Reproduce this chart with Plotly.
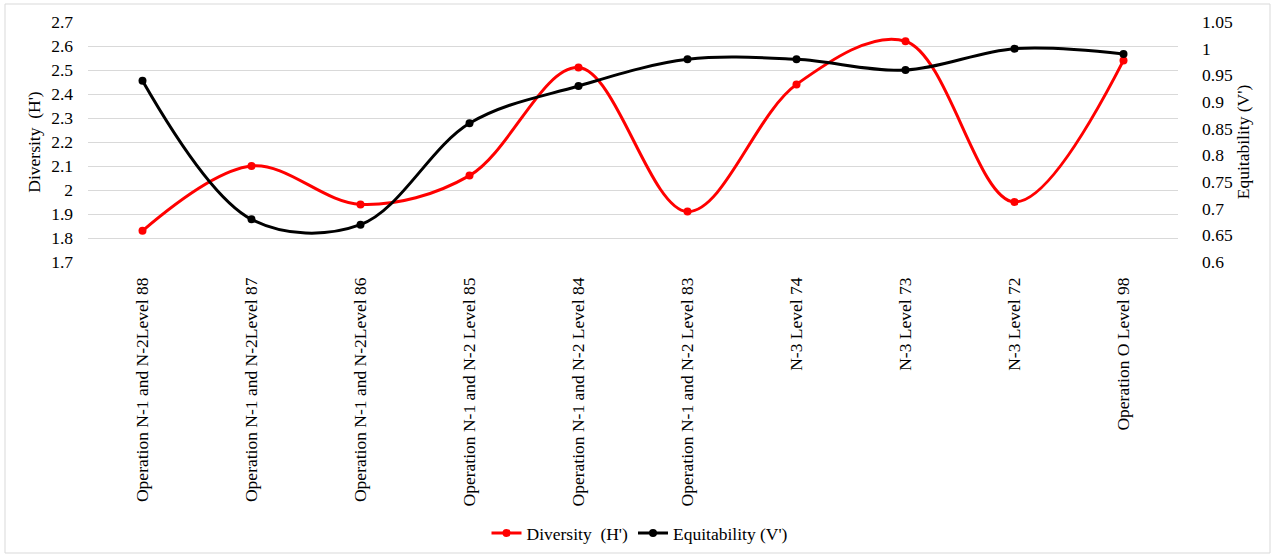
import plotly.graph_objects as go

categories = [
    "Operation N-1 and N-2Level 88",
    "Operation N-1 and N-2Level 87",
    "Operation N-1 and N-2Level 86",
    "Operation N-1 and N-2 Level 85",
    "Operation N-1 and N-2 Level 84",
    "Operation N-1 and N-2 Level 83",
    "N-3 Level 74",
    "N-3 Level 73",
    "N-3 Level 72",
    "Operation O Level 98",
]
diversity = [1.83, 2.10, 1.94, 2.06, 2.51, 1.91, 2.44, 2.62, 1.95, 2.54]
equitability = [0.94, 0.68, 0.67, 0.86, 0.93, 0.98, 0.98, 0.96, 1.00, 0.99]

left_ticks = [1.7, 1.8, 1.9, 2.0, 2.1, 2.2, 2.3, 2.4, 2.5, 2.6, 2.7]
left_labels = ["1.7", "1.8", "1.9", "2", "2.1", "2.2", "2.3", "2.4", "2.5", "2.6", "2.7"]
right_ticks = [0.6, 0.65, 0.7, 0.75, 0.8, 0.85, 0.9, 0.95, 1.0, 1.05]
right_labels = ["0.6", "0.65", "0.7", "0.75", "0.8", "0.85", "0.9", "0.95", "1", "1.05"]

FONT = "Liberation Serif"
FS = 17.5

fig = go.Figure()
fig.add_trace(go.Scatter(
    x=categories, y=diversity, name="Diversity  (H')",
    mode="lines+markers", line=dict(color="#ff0000", width=3, shape="spline", smoothing=1.0),
    marker=dict(color="#ff0000", size=8), yaxis="y",
))
fig.add_trace(go.Scatter(
    x=categories, y=equitability, name="Equitability (V')",
    mode="lines+markers", line=dict(color="#000000", width=3, shape="spline", smoothing=1.0),
    marker=dict(color="#000000", size=8), yaxis="y2",
))

L, R, T, B = 88, 1178, 22, 262
W, H = 1275, 557
pw, ph = R - L, B - T

fig.update_layout(
    width=W, height=H,
    margin=dict(l=L, r=W - R, t=T, b=H - B, autoexpand=False),
    paper_bgcolor="white", plot_bgcolor="white",
    font=dict(family=FONT, size=FS, color="#000000"),
    showlegend=True,
    legend=dict(orientation="h", x=(640 - L) / pw, xanchor="center", y=(B - 533) / ph, yanchor="middle",
                font=dict(family=FONT, size=FS), itemwidth=30, tracegroupgap=0),
    xaxis=dict(
        type="category", tickangle=-90, showgrid=False, zeroline=False, showline=False,
        ticks="", tickfont=dict(family=FONT, size=FS), ticklabelstandoff=11, automargin=False,
        range=[-0.5, len(categories) - 0.5],
    ),
    yaxis=dict(
        range=[1.7, 2.7], tickvals=left_ticks, ticktext=left_labels, automargin=False,
        showgrid=True, gridcolor="#d9d9d9", gridwidth=1, zeroline=False, showline=False,
        ticks="", ticklabelstandoff=14, tickfont=dict(family=FONT, size=FS),
        title=dict(text="Diversity  (H')", font=dict(family=FONT, size=FS), standoff=6),
    ),
    yaxis2=dict(
        range=[0.6, 1.05], tickvals=right_ticks, ticktext=right_labels, automargin=False,
        overlaying="y", side="right", showgrid=False, zeroline=False, showline=False,
        ticks="", ticklabelstandoff=23, tickfont=dict(family=FONT, size=FS),
        title=dict(text="Equitability (V')", font=dict(family=FONT, size=FS), standoff=2),
    ),
    shapes=[dict(
        type="rect", xref="paper", yref="paper",
        x0=(5 - L) / pw, x1=(1270 - L) / pw,
        y0=(B - 553) / ph, y1=(B - 4) / ph,
        line=dict(color="#d9d9d9", width=1), fillcolor="rgba(0,0,0,0)", layer="below",
    )],
)

fig.write_html("out.html", config={"displayModeBar": False},
               post_script="document.body.style.margin='0';document.body.style.padding='0';")
